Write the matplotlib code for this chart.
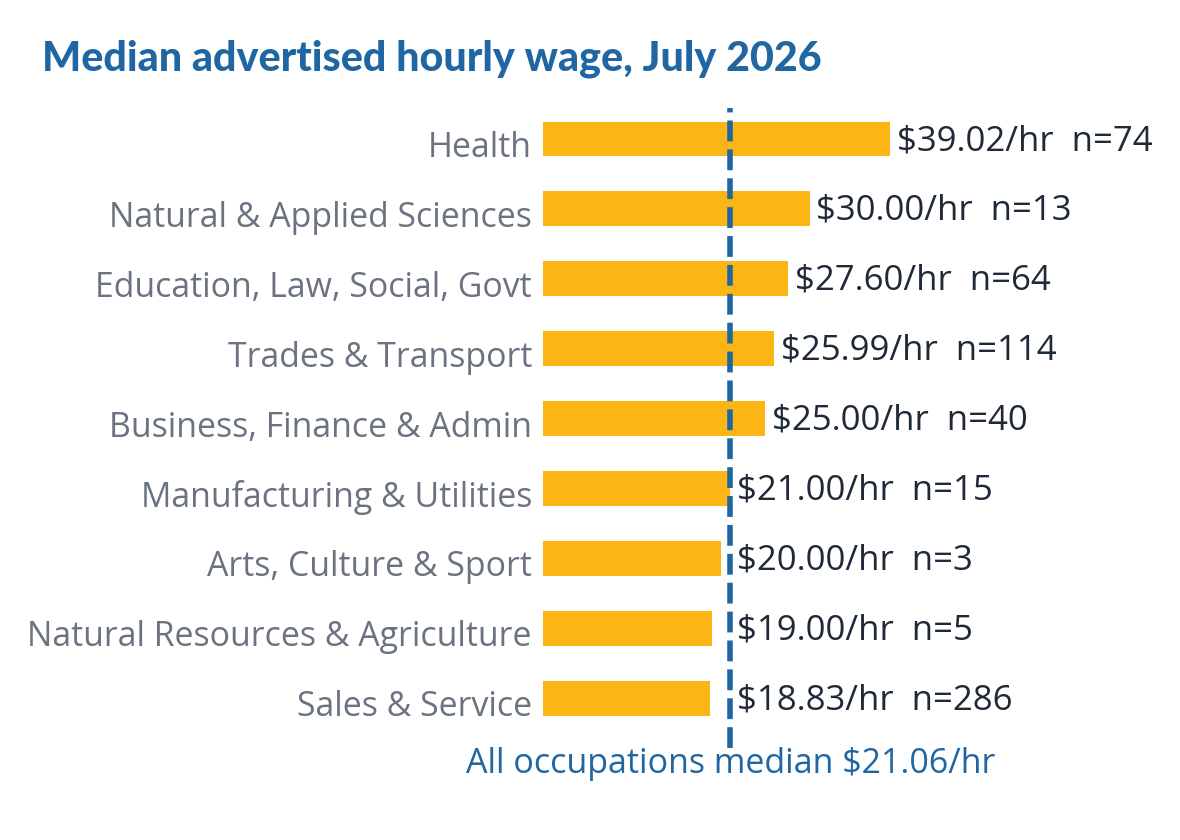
import matplotlib

matplotlib.use("Agg")
import matplotlib.pyplot as plt
from matplotlib.transforms import ScaledTranslation

categories = [
    "Health",
    "Natural & Applied Sciences",
    "Education, Law, Social, Govt",
    "Trades & Transport",
    "Business, Finance & Admin",
    "Manufacturing & Utilities",
    "Arts, Culture & Sport",
    "Natural Resources & Agriculture",
    "Sales & Service",
]
wages = [39.02, 30.00, 27.60, 25.99, 25.00, 21.00, 20.00, 19.00, 18.83]
counts = [74, 13, 64, 114, 40, 15, 3, 5, 286]
overall_median = 21.06

BAR = "#FBB615"
BLUE = "#1F66A3"
GREY = "#6B7280"
DARK = "#1F2937"

plt.rcParams["font.family"] = ["Open Sans", "DejaVu Sans"]

fig = plt.figure(figsize=(11.8, 8.4), dpi=100)
ax = fig.add_axes([543 / 1180, 92 / 840, 637 / 1180, 640 / 840])

ypos = list(range(len(categories)))
ax.barh(ypos, wages, height=0.5, color=BAR)
ax.set_xlim(0, 71.65)
ax.set_ylim(8.715, -0.444)

ax.axvline(overall_median, color=BLUE, lw=4, ls=(0, (3.75, 1.45)), zorder=3)

down = lambda px: ScaledTranslation(0, -px / 100, fig.dpi_scale_trans)

for y, w, n in zip(ypos, wages, counts):
    ax.text(max(w, overall_median) + 0.75, y, f"${w:.2f}/hr  n={n}",
            va="center", ha="left", fontsize=25, color=DARK,
            transform=ax.transData + down(2))

ax.text(overall_median, -0.019, f"All occupations median ${overall_median:.2f}/hr",
        transform=ax.get_xaxis_transform() + down(4), ha="center", va="center",
        fontsize=24.5, color=BLUE)

ax.set_yticks(ypos, categories)
ax.tick_params(axis="y", length=0, pad=8, labelsize=24.4, labelcolor=GREY)
for lbl in ax.get_yticklabels():
    lbl.set_transform(lbl.get_transform() + down(5))
ax.set_xticks([])
for spine in ax.spines.values():
    spine.set_visible(False)

fig.text(42 / 1180, 1 - 70 / 840, "Median advertised hourly wage, July 2026",
         fontsize=29.7, fontweight="black", family=["Lato", "DejaVu Sans"],
         color=BLUE, va="baseline", ha="left")

fig.savefig("out.png", dpi=100)
